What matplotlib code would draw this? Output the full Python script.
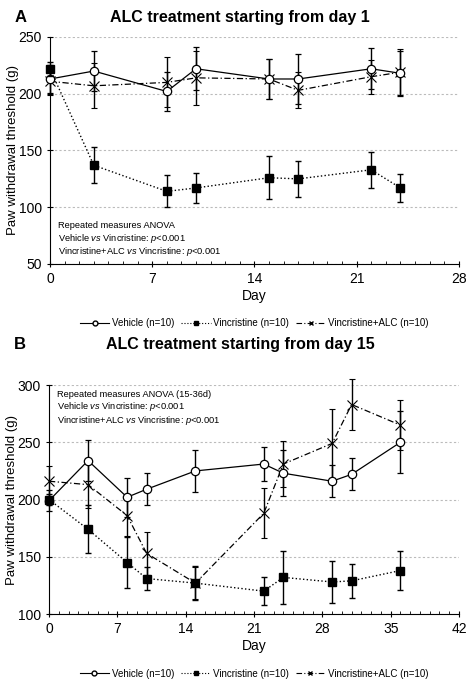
import matplotlib
matplotlib.use("Agg")
import matplotlib.pyplot as plt
from matplotlib.lines import Line2D
from matplotlib.ticker import MultipleLocator

plt.rcParams["font.family"] = ["Liberation Sans", "DejaVu Sans"]
plt.rcParams["mathtext.fontset"] = "custom"
plt.rcParams["mathtext.rm"] = "Liberation Sans"
plt.rcParams["mathtext.it"] = "Liberation Sans:italic"

# panel A
days_a = [0, 3, 8, 10, 15, 17, 22, 24]
veh_a = [213, 220, 202, 222, 213, 213, 222, 218]
veh_a_err = [12, 18, 17, 19, 18, 22, 18, 20]
vin_a = [222, 137, 114, 117, 126, 125, 133, 117]
vin_a_err = [6, 16, 14, 13, 19, 16, 16, 12]
alc_a = [211, 207, 210, 214, 213, 203, 215, 219]
alc_a_err = [12, 20, 22, 24, 18, 16, 15, 20]

# panel B
days_b = [0, 4, 8, 10, 15, 22, 24, 29, 31, 36]
veh_b = [199, 234, 202, 209, 225, 231, 223, 216, 222, 250]
veh_b_err = [9, 18, 17, 14, 18, 15, 20, 14, 14, 27]
vin_b = [200, 174, 145, 131, 127, 120, 132, 128, 129, 138]
vin_b_err = [5, 21, 22, 10, 15, 12, 23, 18, 15, 17]
alc_b = [216, 213, 186, 153, 127, 188, 231, 249, 283, 265]
alc_b_err = [13, 20, 18, 19, 14, 22, 20, 30, 22, 22]

labels = ["Vehicle (n=10)", "Vincristine (n=10)", "Vincristine+ALC (n=10)"]
stats_a = ["Repeated measures ANOVA",
           "Vehicle $\\it{vs}$ Vincristine: $\\it{p}$<0.001",
           "Vincristine+ALC $\\it{vs}$ Vincristine: $\\it{p}$<0.001"]
stats_b = ["Repeated measures ANOVA (15-36d)",
           "Vehicle $\\it{vs}$ Vincristine: $\\it{p}$<0.001",
           "Vincristine+ALC $\\it{vs}$ Vincristine: $\\it{p}$<0.001"]

fig = plt.figure(figsize=(4.74, 6.85), dpi=100)
ax_a = fig.add_axes([0.1055, 0.6146, 0.8625, 0.3314])
ax_b = fig.add_axes([0.1034, 0.1036, 0.8650, 0.3343])

ALC_DASH = (5, 2, 1, 2)


def draw_panel(ax, days, veh, veh_err, vin, vin_err, alc, alc_err):
    common = dict(color="black", ecolor="black", elinewidth=1.0, capsize=2.5,
                  capthick=1.0, clip_on=False)
    ax.errorbar(days, veh, yerr=veh_err, fmt="-o", lw=0.9, ms=6,
                mfc="white", mec="black", mew=0.9, zorder=3, **common)
    ax.errorbar(days, vin, yerr=vin_err, fmt=":s", lw=1.0, ms=5.5,
                mfc="black", mec="black", zorder=4, **common)
    ax.errorbar(days, alc, yerr=alc_err, fmt="-.x", lw=0.9, ms=7,
                mew=0.8, zorder=2, dashes=ALC_DASH, **common)
    ax.yaxis.grid(True, ls=(0, (2, 2)), color="#bbbbbb", lw=0.8)
    ax.set_axisbelow(True)
    for s in ["top", "right"]:
        ax.spines[s].set_visible(False)
    ax.xaxis.set_minor_locator(MultipleLocator(1))
    ax.xaxis.set_major_locator(MultipleLocator(7))
    ax.yaxis.set_major_locator(MultipleLocator(50))
    ax.tick_params(axis="both", which="major", direction="inout", length=5,
                   labelsize=10)
    ax.tick_params(axis="x", which="minor", direction="in", length=2)
    ax.set_xlabel("Day", fontsize=10, labelpad=2)
    ax.set_ylabel("Paw withdrawal threshold (g)", fontsize=9.5)
    ax.yaxis.set_label_coords(-0.075, 0.5)

    handles = [
        Line2D([], [], color="black", lw=0.8, marker="o", ms=3.5,
               mfc="white", mec="black"),
        Line2D([], [], color="black", lw=0.8, ls=":", marker="s", ms=3.5,
               mfc="black"),
        Line2D([], [], color="black", lw=0.8, dashes=ALC_DASH, marker="x",
               ms=3.5),
    ]
    ax.legend(handles, labels, loc="upper center",
              bbox_to_anchor=(0.5, -0.2), ncol=3, frameon=False,
              fontsize=7, handlelength=3.0, handletextpad=0.3,
              columnspacing=0.7)


draw_panel(ax_a, days_a, veh_a, veh_a_err, vin_a, vin_a_err, alc_a, alc_a_err)
ax_a.set_xlim(0, 28)
ax_a.set_ylim(50, 250)
for txt, yy in zip(stats_a, [0.17, 0.112, 0.057]):
    ax_a.text(0.02, yy, txt, transform=ax_a.transAxes, fontsize=6.7,
              va="center")

draw_panel(ax_b, days_b, veh_b, veh_b_err, vin_b, vin_b_err, alc_b, alc_b_err)
ax_b.set_xlim(0, 42)
ax_b.set_ylim(100, 300)
for txt, yy in zip(stats_b, [0.96, 0.905, 0.847]):
    ax_b.text(0.02, yy, txt, transform=ax_b.transAxes, fontsize=6.7,
              va="center")

fig.text(0.03, 0.985, "A", fontsize=12, fontweight="bold", va="top")
fig.text(0.507, 0.985, "ALC treatment starting from day 1", fontsize=11.5,
         fontweight="bold", va="top", ha="center")
fig.text(0.03, 0.508, "B", fontsize=12, fontweight="bold", va="top")
fig.text(0.507, 0.508, "ALC treatment starting from day 15", fontsize=11.5,
         fontweight="bold", va="top", ha="center")

fig.savefig("out.png", dpi=100)
